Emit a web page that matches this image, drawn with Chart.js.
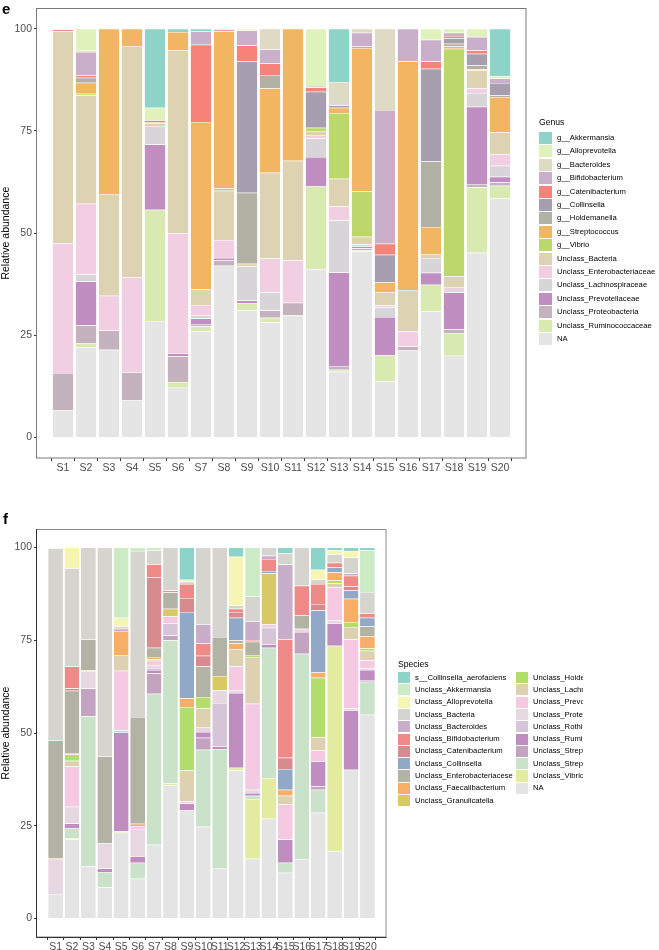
<!DOCTYPE html>
<html><head><meta charset="utf-8">
<script src="https://cdn.jsdelivr.net/npm/chart.js@4.4.1/dist/chart.umd.min.js"></script>
<style>
html,body{margin:0;padding:0;background:#fff;width:659px;height:950px;overflow:hidden;font-family:"Liberation Sans",Arial,Helvetica,sans-serif;}
canvas{position:absolute;left:0;}
#ce{top:0;}
#cf{top:485px;}
.panel{position:absolute;font-weight:bold;font-size:15px;color:#000;line-height:15px;}
.ltitle{position:absolute;font-size:8.6px;color:#000;white-space:nowrap;line-height:10px;}
.key{position:absolute;}
.ltext{position:absolute;font-size:7.7px;color:#000;white-space:nowrap;line-height:10px;}
#legF{position:absolute;left:0;top:0;width:583px;height:950px;overflow:hidden;}
</style></head>
<body>
<canvas id="ce" width="659" height="485"></canvas>
<canvas id="cf" width="659" height="465"></canvas>
<div class="panel" style="left:2px;top:1px;">e</div>
<div class="panel" style="left:3px;top:511px;">f</div>
<div id="legE"></div>
<div id="legF"></div>
<script>
// ---------- shared ----------
const samples = ['S1','S2','S3','S4','S5','S6','S7','S8','S9','S10','S11','S12','S13','S14','S15','S16','S17','S18','S19','S20'];
const yTicks = [0, 25, 50, 75, 100];

// ---------- panel e : genus ----------
const genusNames = ['g__Akkermansia','g__Alloprevotella','g__Bacteroides','g__Bifidobacterium','g__Catenibacterium','g__Collinsella','g__Holdemanella','g__Streptococcus','g__Vibrio','Unclass_Bacteria','Unclass_Enterobacteriaceae','Unclass_Lachnospiraceae','Unclass_Prevotellaceae','Unclass_Proteobacteria','Unclass_Ruminococcaceae','NA'];
const g_Akkermansia      = [0,0,0,0,19.3,0.8,0.6,0.25,0,0,0,0,13.0,0,0,0,0,0,0,11.6];
const g_Alloprevotella   = [0,5.4,0,0,3.1,0,0,0,0.4,0,0,14.0,0,0,0,0,2.7,1.0,1.8,0.6];
const g_Bacteroides      = [0.2,0.3,0,0,0,0,0,0,0,5.0,0,0,5.4,1.0,19.9,0,0,0,0.2,0];
const g_Bifidobacterium  = [0,5.7,0,0,0,0,3.3,0,3.7,3.5,0,0.4,0.4,3.3,32.7,8.0,5.3,0.8,3.3,1.1];
const g_Catenibacterium  = [0.4,0.6,0,0,0.4,0,18.9,0.35,3.9,2.8,0,1.0,0,0,2.7,0,1.8,0.5,0.8,0];
const g_Collinsella      = [0,0,0,0,0,0,0,0,32.1,0,0,8.8,0.5,0,6.8,0,22.7,1.4,2.9,3.0];
const g_Holdemanella     = [0,1.2,0,0,0,0,0,0,17.4,3.3,0,0,0,0.4,0,0,16.0,0.6,0.9,0.4];
const g_Streptococcus    = [0,2.7,40.4,4.2,0,4.5,40.9,38.5,0,20.6,32.3,0,1.3,35.1,2.4,55.9,6.6,0.6,0.3,8.7];
const g_Vibrio           = [0,0.4,0,0,0.4,0,0,0.5,0,0,0,0.8,16.1,11.1,0,0,0,55.7,0,0];
const gU_Bacteria        = [51.9,26.5,24.9,56.6,0.6,44.7,3.9,12.1,0.6,21.0,24.3,1.0,6.8,1.8,3.2,10.1,1.0,2.6,4.4,5.3];
const gU_Enterobacteriaceae = [31.5,17.3,8.5,23.2,0,29.4,2.5,4.4,0,8.3,10.4,0.8,3.4,0.5,0.4,3.7,0,1.3,1.1,2.8];
const gU_Lachnospiraceae = [0,1.7,0,0,4.5,0,0.8,0,8.4,4.4,0,4.6,12.7,0,2.4,0,3.6,0,3.4,2.7];
const gU_Prevotellaceae  = [0.2,10.8,0,0,16.0,0.7,1.3,0.5,0.6,0,0,7.2,22.9,0.5,9.4,0,2.9,9.0,18.9,1.4];
const gU_Proteobacteria  = [9.2,4.4,4.7,6.8,0,6.3,0.6,1.4,0,1.8,3.0,0,0.9,0.4,0,1.0,0,0.9,0.8,0.8];
const gU_Ruminococcaceae = [0,1.0,0,0,27.2,1.4,1.2,0,1.8,1.1,0.2,20.2,0.5,0.4,6.3,0,6.5,5.6,16.0,3.1];
const g_NA               = [6.6,22.0,21.5,9.2,28.5,12.2,26.0,42.0,31.1,28.2,29.8,41.2,16.1,45.5,13.8,21.3,30.9,20.0,45.2,58.5];
const genusSeries = [g_Akkermansia,g_Alloprevotella,g_Bacteroides,g_Bifidobacterium,g_Catenibacterium,g_Collinsella,g_Holdemanella,g_Streptococcus,g_Vibrio,gU_Bacteria,gU_Enterobacteriaceae,gU_Lachnospiraceae,gU_Prevotellaceae,gU_Proteobacteria,gU_Ruminococcaceae,g_NA];
const genusColors = ['#8DD3C7','#DFF2BC','#DEDAC4','#C9AFC9','#F5837A','#A79EB0','#B1B2A4','#F2B662','#BCD86C','#DDD2B2','#F1CEE1','#D8D5D8','#C18EC2','#C4B3BF','#D9EAB1','#E5E5E5'];

// ---------- panel f : species ----------
const speciesNames = ['s__Collinsella_aerofaciens','Unclass_Akkermansia','Unclass_Alloprevotella','Unclass_Bacteria','Unclass_Bacteroides','Unclass_Bifidobacterium','Unclass_Catenibacterium','Unclass_Collinsella','Unclass_Enterobacteriacese','Unclass_Faecalibacterium','Unclass_Granulicatella','Unclass_Holdemanella','Unclass_Lachnospiraceae','Unclass_Prevotellaceae','Unclass_Proteobacteria','Unclass_Rothia','Unclass_Ruminococcaceae','Unclass_Streptococcaceae','Unclass_Streptococcus','Unclass_Vibrio','NA'];
const s_CollinsellaAero = [0,0,0,0,0,0,0,0,8.7,0,0,2.5,0,0,1.6,0,6.0,0.7,0.9,0.7];
const sU_Akkermansia    = [0,0,0,0,18.9,0.9,0.7,0,0,0,0,0,13.2,0,0,0,0,0,0,11.3];
const sU_Alloprevotella = [0.2,5.6,0,0,2.3,0,0,0,0.5,0,0,13.1,0,0,0,0,2.6,1.1,1.8,0];
const sU_Bacteria       = [51.4,26.5,24.7,56.3,0.7,44.8,3.8,11.6,0.6,20.7,24.1,0.9,6.7,2.2,3.0,10.3,1.2,2.3,4.3,5.7];
const sU_Bacteroides    = [0,0,0,0,0.6,0,0,0,0,5.2,0,0,5.0,0.9,20.1,0,0,0,0.6,0];
const sU_Bifidobacterium= [0.4,5.9,0,0,0,0,3.5,0.5,3.8,3.3,0,0.9,0.5,3.2,32.0,8.0,5.4,1.3,2.9,1.2];
const sU_Catenibacterium= [0,0.6,0,0,0,0,19.0,0,3.8,2.9,0,1.5,0,0,3.0,0,1.8,0,1.1,0];
const sU_Collinsella    = [0,0,0,0,0,0,0,0,23.2,0,0,6.1,0,0.7,5.6,0,16.7,1.3,2.2,2.3];
const sU_Enterobacteriacese = [31.7,16.8,8.4,23.5,0,28.8,2.5,4.4,0,8.2,10.5,0.9,3.6,0,0,3.6,0,0,0,2.7];
const sU_Faecalibacterium = [0.2,0.4,0.2,0,6.5,0.6,0.6,0,2.4,0,0,1.6,0,0,1.6,0,1.4,2.2,6.3,3.3];
const sU_Granulicatella = [0,0,0,0,0,0,0,2.1,0,0,3.9,0,0,13.7,0,0,0,0,0,0];
const sU_Holdemanella   = [0,1.7,0,0,0,0,0,0,17.1,3.1,0,0,0.5,0,0,0,16.1,0.7,1.3,0.6];
const sU_Lachnospiraceae= [0,1.5,0,0,4.2,0,0.4,0,8.3,5.0,0,4.6,12.6,0,2.4,0,3.5,1.1,3.4,2.6];
const sU_Prevotellaceae = [0,10.9,0,0,16.1,0.8,1.2,1.8,0.6,0,0,6.3,23.2,0.9,9.4,0,2.9,8.9,18.5,2.2];
const sU_Proteobacteria = [9.5,4.5,4.7,6.7,0,7.3,0.8,0,0,1.3,3.4,0.8,0.9,0,0,0.9,0,0.8,0.6,0.4];
const sU_Rothia         = [0,0,0,0,0.5,0,0.5,3.3,0,0,11.7,0,0,4.5,0,0,0,0,0,0];
const sU_Ruminococcaceae= [0,1.2,0,1.0,26.7,1.8,0.9,0,1.9,1.6,0.7,20.2,0.7,0.9,6.3,0,6.8,6.1,16.0,2.7];
const sU_Streptococcaceae = [0,0,7.5,0,0,0,5.5,1.3,0,3.2,0,0,0,0,0,5.8,0.9,0,0,0.5];
const sU_Streptococcus  = [0,2.7,40.4,4.1,0,4.3,40.7,38.6,0,20.8,32.1,0,0.9,35.1,2.7,55.5,6.2,0,0,8.9];
const sU_Vibrio         = [0,0.4,0,0,0.4,0,0,0.5,0,0,0,0.7,16.1,11.0,0,0,0,55.4,0,0];
const s_NA              = [6.6,21.3,14.1,8.4,23.1,10.7,19.9,35.9,29.1,24.7,13.6,39.9,16.1,26.9,12.3,15.9,28.5,18.1,40.1,54.9];
const speciesSeries = [s_CollinsellaAero,sU_Akkermansia,sU_Alloprevotella,sU_Bacteria,sU_Bacteroides,sU_Bifidobacterium,sU_Catenibacterium,sU_Collinsella,sU_Enterobacteriacese,sU_Faecalibacterium,sU_Granulicatella,sU_Holdemanella,sU_Lachnospiraceae,sU_Prevotellaceae,sU_Proteobacteria,sU_Rothia,sU_Ruminococcaceae,sU_Streptococcaceae,sU_Streptococcus,sU_Vibrio,s_NA];
const speciesColors = ['#8DD3C7','#CCEBC5','#F6F6B2','#D6D4CF','#C8AECA','#EE8A87','#D98A8E','#91A8C6','#B2B3A5','#F7AE68','#D8C866','#B3DE6C','#DDD1B2','#F4C9E1','#E7D7E0','#D6C4D9','#C08DC1','#C3A3C0','#C9E2C9','#E3EBA1','#E4E4E4'];

// ---------- drawing ----------
const axisFont = {family:'"Liberation Sans", Arial, sans-serif', size:10.5};
const panelBorder = {
  id:'panelBorder',
  afterDraw(chart, args, opts){
    const a = chart.chartArea, c = chart.ctx;
    c.save();
    c.lineWidth = 1;
    c.strokeStyle = opts.color || '#7a7a7a';
    c.strokeRect(Math.round(a.left)-0.5, Math.round(a.top)+0.5, Math.round(a.right-a.left)+0.5, Math.round(a.bottom-a.top)-0.5);
    if (opts.axisColor){
      c.strokeStyle = opts.axisColor;
      c.beginPath();
      c.moveTo(Math.round(a.left)-0.5, Math.round(a.top));
      c.lineTo(Math.round(a.left)-0.5, Math.round(a.bottom)+0.5);
      c.lineTo(Math.round(a.right)+0.5, Math.round(a.bottom)+0.5);
      c.stroke();
    }
    c.restore();
  }
};

function makeChart(id, names, series, colors, g){
  const datasets = [];
  for (let i = names.length - 1; i >= 0; i--){
    datasets.push({
      label: names[i],
      data: series[i].map((v, k) => ({x: k + 1, y: v > 0 ? v : null})),
      backgroundColor: colors[i],
      borderColor: '#ffffff',
      borderWidth: {top: 0.5, right: 0, bottom: 0, left: 0},
      borderSkipped: false,
      categoryPercentage: 1.0,
      barPercentage: 0.9
    });
  }
  return new Chart(document.getElementById(id), {
    type: 'bar',
    data: {datasets},
    options: {
      responsive: false,
      animation: false,
      devicePixelRatio: 1,
      layout: {padding: {left: 0, right: g.padRight, top: g.padTop, bottom: 0}},
      plugins: {legend: {display: false}, tooltip: {enabled: false}, panelBorder: {color: g.border, axisColor: g.axis}},
      scales: {
        x: {
          type: 'linear', stacked: true, min: 0.4, max: 20.6,
          afterBuildTicks: s => { s.ticks = samples.map((n, k) => ({value: k + 1})); },
          afterFit: s => { s.height = g.xH; },
          ticks: {autoSkip: false, maxRotation: 0, minRotation: 0, padding: 1, color: '#4d4d4d', font: axisFont,
                  callback: v => samples[Math.round(v) - 1]},
          grid: {display: true, drawOnChartArea: false, drawTicks: true, tickLength: 3, color: '#333333', lineWidth: 1},
          border: {display: false}
        },
        y: {
          stacked: true, min: -5, max: 105,
          afterBuildTicks: s => { s.ticks = yTicks.map(v => ({value: v})); },
          afterFit: s => { s.width = 37; },
          ticks: {padding: 2, color: '#4d4d4d', font: axisFont},
          grid: {display: true, drawOnChartArea: false, drawTicks: true, tickLength: 3, color: '#333333', lineWidth: 1},
          border: {display: false},
          title: {display: true, text: 'Relative abundance', color: '#000', font: {family: '"Liberation Sans", Arial, sans-serif', size: 10.5}, padding: {top: 0, bottom: 0}}
        }
      }
    },
    plugins: [panelBorder]
  });
}

makeChart('ce', genusNames, genusSeries, genusColors, {padRight: 133, padTop: 7, xH: 27, border: '#7a7a7a'});
makeChart('cf', speciesNames, speciesSeries, speciesColors, {padRight: 273, padTop: 44, xH: 13, border: '#8a8a8a', axis: '#333333'});

// ---------- legends ----------
function legend(hostId, title, names, colors, g){
  const host = document.getElementById(hostId);
  let html = `<div class="ltitle" style="left:${g.x}px;top:${g.titleY}px;">${title}</div>`;
  names.forEach((n, i) => {
    const col = Math.floor(i / g.perCol), row = i % g.perCol;
    const kx = g.x + col * g.colW, ky = g.y0 + row * g.pitch;
    html += `<div class="key" style="left:${kx}px;top:${ky}px;width:${g.kw}px;height:${g.kh}px;background:${colors[i]};"></div>`;
    html += `<div class="ltext" style="left:${kx + g.tx}px;top:${ky + g.kh / 2 - 5}px;">${n}</div>`;
  });
  host.innerHTML = html;
}
legend('legE', 'Genus', genusNames, genusColors, {x: 539, titleY: 117, y0: 132, pitch: 13.4, kw: 13, kh: 12, tx: 18, perCol: 16, colW: 0});
legend('legF', 'Species', speciesNames, speciesColors, {x: 398, titleY: 659, y0: 672, pitch: 12.3, kw: 12, kh: 11.2, tx: 17, perCol: 11, colW: 118});
</script>
</body></html>
